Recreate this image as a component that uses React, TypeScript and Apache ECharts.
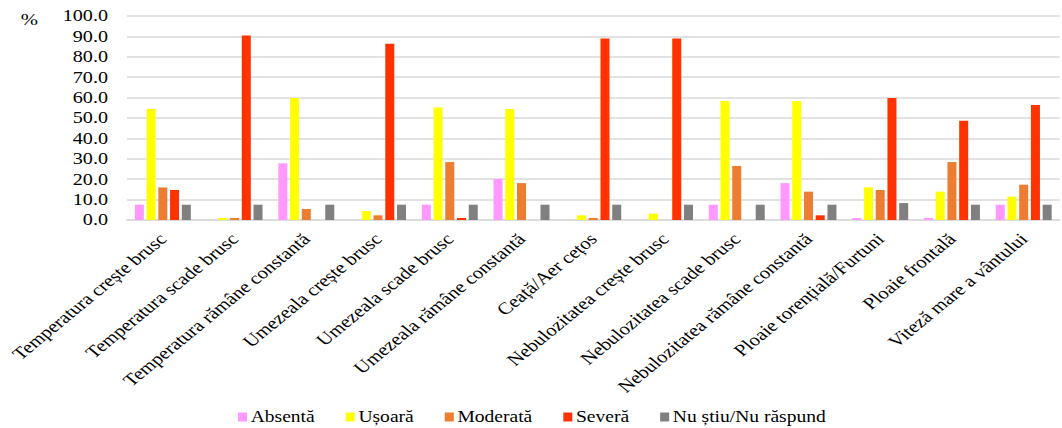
import React, { useEffect, useRef } from "react";
import * as echarts from "echarts";

const categories = [
  "Temperatura crește brusc",
  "Temperatura scade brusc",
  "Temperatura rămâne constantă",
  "Umezeala crește brusc",
  "Umezeala scade brusc",
  "Umezeala rămâne constantă",
  "Ceață/Aer cețos",
  "Nebulozitatea crește brusc",
  "Nebulozitatea scade brusc",
  "Nebulozitatea rămâne constantă",
  "Ploaie torențială/Furtuni",
  "Ploaie frontală",
  "Viteză mare a vântului",
];

const absenta = [7.5, 0, 27.8, 0, 7.5, 20.1, 0, 0, 7.5, 18.1, 1.0, 1.0, 7.5];
const usoara = [54.4, 1.0, 59.8, 4.4, 55.2, 54.4, 2.3, 3.1, 58.3, 58.3, 16.0, 13.9, 11.4];
const moderata = [16.0, 1.0, 5.4, 2.3, 28.4, 18.1, 1.0, 0, 26.5, 13.9, 14.7, 28.4, 17.3];
const severa = [14.7, 90.5, 0, 86.4, 1.0, 0, 89.0, 89.0, 0, 2.3, 59.8, 48.7, 56.4];
const nuStiu = [7.5, 7.5, 7.5, 7.5, 7.5, 7.5, 7.5, 7.5, 7.5, 7.5, 8.3, 7.5, 7.5];

const seriesNames = ["Absentă", "Ușoară", "Moderată", "Severă", "Nu știu/Nu răspund"];
const seriesData = [absenta, usoara, moderata, severa, nuStiu];
const seriesColors = ["#FF99FF", "#FFFF00", "#ED7D31", "#FF3300", "#808080"];

const FONT = "Liberation Serif";

// The chart is laid out on a narrower canvas and widened horizontally,
// which gives the wide serif lettering and the flatter slant of the labels.
const OUT_W = 1062;
const OUT_H = 428;
const STRETCH = 1.2207;
const IN_W = Math.round(OUT_W / STRETCH);

export default function App() {
  const ref = useRef<HTMLDivElement>(null);

  useEffect(() => {
    if (!ref.current) return;
    const chart = echarts.init(ref.current, null, { renderer: "svg" });
    chart.setOption({
      animation: false,
      backgroundColor: "#ffffff",
      textStyle: { fontFamily: FONT, color: "#000" },
      grid: { left: 104, right: 2, top: 16, bottom: 208 },
      graphic: [
        {
          type: "text",
          left: 17,
          top: 11,
          style: { text: "%", fontFamily: FONT, fontSize: 17, fill: "#000" },
        },
      ],
      legend: {
        top: 404,
        left: 190,
        itemWidth: 7.4,
        itemHeight: 9,
        itemGap: 25.4,
        icon: "rect",
        textStyle: { fontFamily: FONT, fontSize: 16, color: "#000", padding: [0, 0, 0, -2] },
        data: seriesNames,
      },
      xAxis: {
        type: "category",
        data: categories,
        axisTick: { show: false },
        axisLine: { lineStyle: { color: "#d9d9d9", width: 1.5 } },
        axisLabel: {
          interval: 0,
          rotate: 45,
          margin: 16,
          fontFamily: FONT,
          fontSize: 17,
          color: "#000",
        },
      },
      yAxis: {
        type: "value",
        min: 0,
        max: 100,
        interval: 10,
        axisLine: { show: false },
        axisTick: { show: false },
        splitLine: { lineStyle: { color: "#d9d9d9", width: 1.5 } },
        axisLabel: {
          formatter: (v: number) => v.toFixed(1),
          fontFamily: FONT,
          fontSize: 16.5,
          color: "#000",
          margin: 15.5,
        },
      },
      series: seriesNames.map((name, i) => ({
        name,
        type: "bar",
        data: seriesData[i],
        barGap: "30%",
        barCategoryGap: "22%",
        itemStyle: { color: seriesColors[i] },
      })),
    });
    return () => chart.dispose();
  }, []);

  return (
    <div
      ref={ref}
      style={{
        position: "fixed",
        left: 0,
        top: 0,
        width: IN_W,
        height: OUT_H,
        transform: `scaleX(${STRETCH})`,
        transformOrigin: "0 0",
      }}
    />
  );
}
